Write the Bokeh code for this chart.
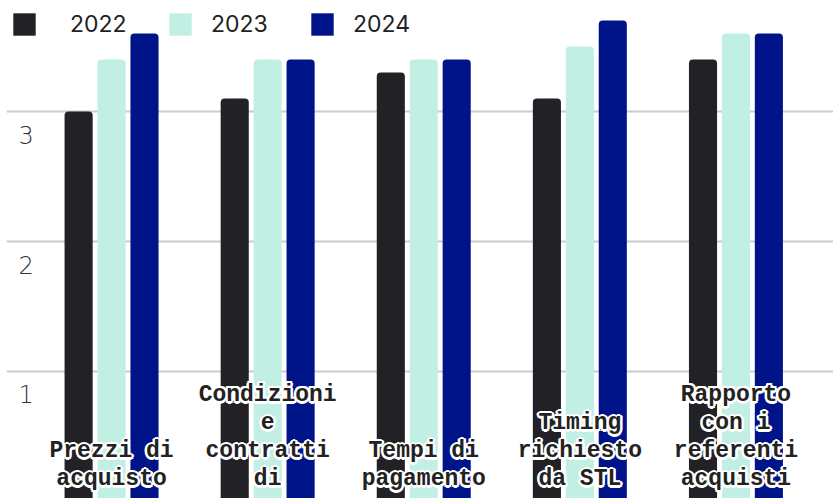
import numpy as np
from bokeh.plotting import figure
from bokeh.models import Range1d, ColumnDataSource, Legend, LegendItem, Grid, FixedTicker
from bokeh.transform import dodge
from bokeh.core.properties import value
from bokeh.embed import file_html
from bokeh.resources import INLINE

categories = ["Prezzi di\nacquisto", "Condizioni\ne\ncontratti\ndi", "Tempi di\npagamento",
              "Timing\nrichiesto\nda STL", "Rapporto\ncon i\nreferenti\nacquisti"]
years = ["2022", "2023", "2024"]
v2022 = [3.0, 3.1, 3.3, 3.1, 3.4]
v2023 = [3.4, 3.4, 3.4, 3.5, 3.6]
v2024 = [3.6, 3.4, 3.4, 3.7, 3.6]
y_ticks = [1, 2, 3]

colors = ["#222226", "#c2efe4", "#001489"]
offsets = [-0.211, 0.0, 0.211]

X0, X1 = -0.673, 4.625
Y0, Y1 = 0.023, 3.854

src = ColumnDataSource(dict(x=np.arange(len(categories)), cat=categories,
                            v2022=v2022, v2023=v2023, v2024=v2024))

p = figure(width=833, height=498, output_backend="svg", toolbar_location=None,
           x_range=Range1d(X0, X1), y_range=Range1d(Y0, Y1),
           x_axis_location=None, y_axis_location=None,
           min_border_left=6, min_border_right=0, min_border_top=0, min_border_bottom=0)
p.outline_line_color = None
p.background_fill_color = "white"
p.border_fill_color = "white"
p.center = [c for c in p.center if not isinstance(c, Grid)]

p.add_layout(Grid(dimension=1, ticker=FixedTicker(ticks=y_ticks),
                  grid_line_color="#cccccc", grid_line_width=2))

renderers = []
for yr, col, off in zip(years, colors, offsets):
    r = p.vbar(x=dodge("x", off), top="v" + yr, bottom=0, width=0.18, source=src,
               fill_color=col, line_color=None, border_radius=(4, 4, 0, 0))
    renderers.append(r)

# y tick labels inside the plot
ysrc = ColumnDataSource(dict(x=[X0] * len(y_ticks), y=y_ticks, t=[str(t) for t in y_ticks]))
p.text(x="x", y="y", text="t", source=ysrc, x_offset=12, y_offset=23,
       text_align="left", text_baseline="middle",
       text_font=value("DejaVu Sans Light, Roboto Light, Lato Light, DejaVu Sans"),
       text_font_size="24px", text_color="#333333")

# category labels with a white halo
lab_kw = dict(x="x", y=Y0, text="cat", source=src,
              text_align="center", text_baseline="bottom",
              text_font=value("Liberation Mono"), text_font_style="bold", text_font_size="23px",
              text_line_height=1.08)
halo = [(-2.5, 0), (2.5, 0), (0, -2.5), (0, 2.5), (-1.8, -1.8), (1.8, -1.8), (-1.8, 1.8), (1.8, 1.8)]
for dx, dy in halo:
    p.text(x_offset=dx, y_offset=-6 + dy, text_color="white", **lab_kw)
p.text(x_offset=0, y_offset=-6, text_color="#222222", **lab_kw)

leg_x = [4, 160, 302]
standoffs = [32, 17, 17]
for yr, r, lx, so in zip(years, renderers, leg_x, standoffs):
    leg = Legend(items=[LegendItem(label=yr, renderers=[r])], location=(lx, 460),
                 orientation="horizontal", glyph_width=28, glyph_height=28,
                 label_standoff=so, padding=0, margin=0, spacing=0,
                 border_line_color=None, background_fill_alpha=0,
                 label_text_font="Inter", label_text_font_size="23px",
                 label_text_color="#222222")
    p.add_layout(leg)

open("out.html", "w").write(file_html(p, INLINE))
